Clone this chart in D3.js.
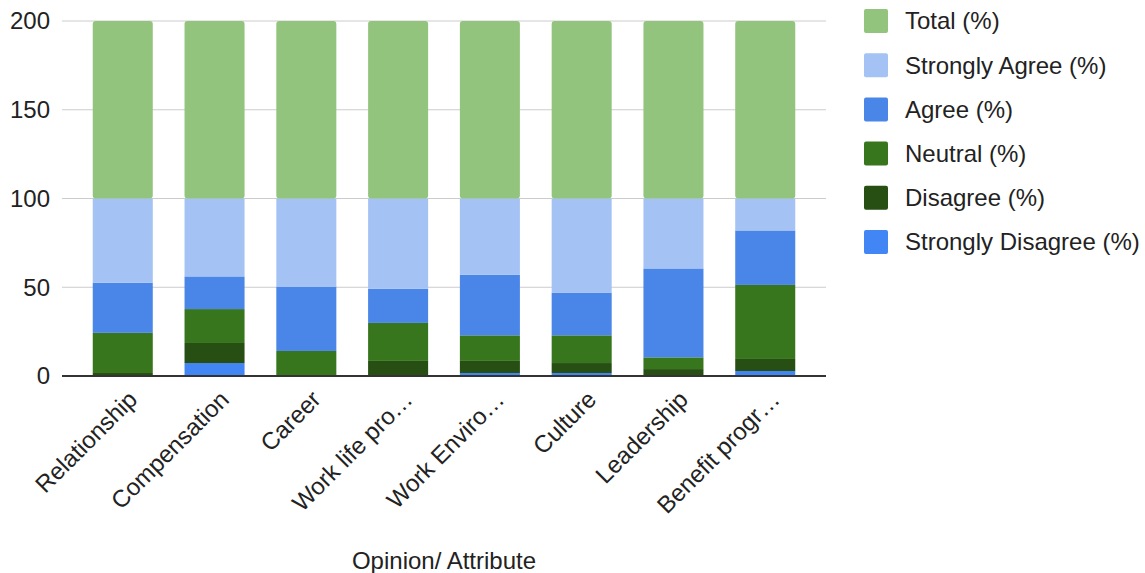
<!DOCTYPE html>
<html><head><meta charset="utf-8">
<script src="https://cdn.jsdelivr.net/npm/d3@7"></script>
<style>body{margin:0;background:#fff}text{font-family:"Liberation Sans",Arial,sans-serif}</style>
</head><body><svg id="c" width="1145" height="573"></svg>
<script>
const categories = ["Relationship","Compensation","Career","Work life pro\u2026","Work Enviro\u2026","Culture","Leadership","Benefit progr\u2026"];
const seriesNames = ["Strongly Disagree (%)","Disagree (%)","Neutral (%)","Agree (%)","Strongly Agree (%)","Total (%)"];
const stronglyDisagree = [0, 7.3, 0, 0.5, 1.7, 1.7, 0, 2.8];
const disagree        = [1.7, 11.3, 0, 8.0, 6.8, 5.6, 3.9, 6.8];
const neutral         = [22.6, 19.1, 14.1, 21.4, 14.4, 15.6, 6.6, 41.7];
const agree           = [28.2, 18.4, 36.3, 19.2, 34.2, 23.9, 50.1, 30.7];
const stronglyAgree   = [47.5, 43.9, 49.6, 50.9, 42.9, 53.2, 39.4, 18.0];
const total           = [100, 100, 100, 100, 100, 100, 100, 100];
const yTicks = [0, 50, 100, 150, 200];
const colors = ["#4285f4","#274e13","#38761d","#4a86e8","#a4c2f4","#93c47d"];

const series = [stronglyDisagree, disagree, neutral, agree, stronglyAgree, total];
const rows = categories.map((c,i)=>{const o={cat:c}; seriesNames.forEach((s,j)=>o[s]=series[j][i]); return o;});
const stacked = d3.stack().keys(seriesNames)(rows);

const svg = d3.select("#c");
const L=62, R=826, T=21, B=376;
const FS=24;
const x = d3.scaleBand().domain(categories).range([L,R]).paddingInner(0.346).paddingOuter(0.335);
const y = d3.scaleLinear().domain([0,200]).range([B,T]);

// grid
svg.append("g").selectAll("line").data(yTicks.filter(t=>t>0)).join("line")
  .attr("x1",L).attr("x2",R).attr("y1",d=>y(d)).attr("y2",d=>y(d))
  .attr("stroke","#cccccc").attr("stroke-width",1);
// y labels
svg.append("g").selectAll("text").data(yTicks).join("text")
  .attr("x",50).attr("y",d=>y(d)).attr("dy","0.35em").attr("text-anchor","end")
  .attr("font-size",FS).attr("fill","#222").text(d=>d);

// bars
const g = svg.append("g");
stacked.forEach((layer,j)=>{
  g.append("g").selectAll("rect").data(layer).join("rect")
    .attr("x",d=>x(d.data.cat)).attr("width",x.bandwidth())
    .attr("y",d=>y(d[1])).attr("height",d=>Math.max(0,y(d[0])-y(d[1])))
    .attr("rx", j===5?3:0)
    .attr("fill",colors[j]);
});
// baseline
svg.append("line").attr("x1",L).attr("x2",R).attr("y1",y(0)).attr("y2",y(0))
  .attr("stroke","#333").attr("stroke-width",2);

// x labels
svg.append("g").selectAll("text").data(categories).join("text")
  .attr("transform",d=>`translate(${x(d)+x.bandwidth()/2+10},${B+19}) rotate(-45)`)
  .attr("text-anchor","end").attr("dy","0.35em")
  .attr("font-size",FS).attr("fill","#222").text(d=>d);

// axis title
svg.append("text").attr("x",(L+R)/2).attr("y",569).attr("text-anchor","middle")
  .attr("font-size",FS).attr("fill","#222").text("Opinion/ Attribute");

// legend
const legendOrder = seriesNames.slice().reverse();
const lg = svg.append("g").selectAll("g").data(legendOrder).join("g")
  .attr("transform",(d,i)=>`translate(864,${21+i*44.2})`);
lg.append("rect").attr("x",0).attr("y",-12).attr("width",24).attr("height",24).attr("rx",2)
  .attr("fill",d=>colors[seriesNames.indexOf(d)]);
lg.append("text").attr("x",41).attr("y",0).attr("dy","0.35em").attr("font-size",FS)
  .attr("fill","#222").text(d=>d);
</script></body></html>
